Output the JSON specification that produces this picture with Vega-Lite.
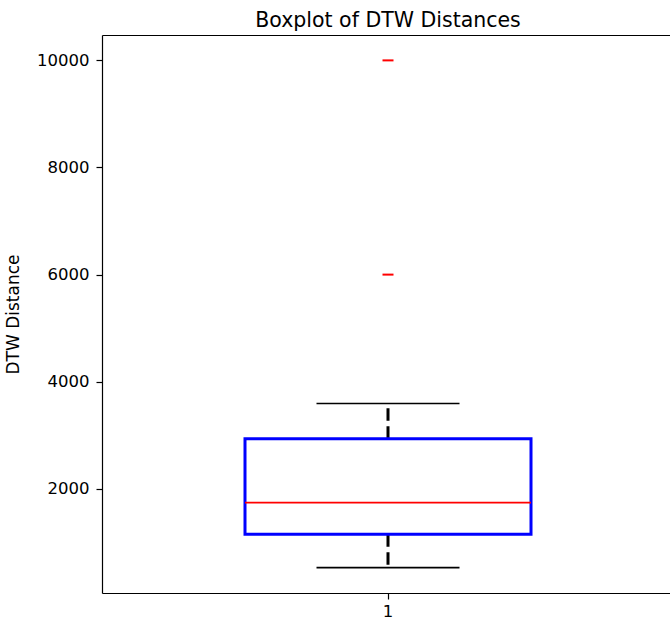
{
  "$schema": "https://vega.github.io/schema/vega-lite/v6.json",
  "width": 572,
  "height": 558,
  "autosize": "none",
  "padding": {"left": 102, "top": 35, "right": -4, "bottom": 27},
  "view": {"stroke": null},
  "title": {"text": "Boxplot of DTW Distances", "font": "DejaVu Sans", "fontSize": 20.5, "fontWeight": "normal", "color": "black", "offset": 4},
  "config": {
    "view": {"stroke": null},
    "font": "DejaVu Sans",
    "axis": {"labelFont": "DejaVu Sans", "titleFont": "DejaVu Sans", "labelColor": "black", "titleColor": "black", "domainColor": "black", "tickColor": "black", "grid": false, "labelFontSize": 16.5, "titleFontSize": 17, "titleFontWeight": "normal", "tickSize": 6, "domainWidth": 1.2, "tickWidth": 1.2}
  },
  "data": {"values": [{"label": "1", "lower": 529, "q1": 1151, "median": 1743, "q3": 2935, "upper": 3593}]},
  "resolve": {"axis": {"x": "independent"}},
  "layer": [
    {
      "mark": {"type": "rule", "color": "black", "strokeWidth": 3, "strokeDash": [12.5, 5.5]},
      "encoding": {
        "x": {"field": "label", "type": "nominal", "scale": {"paddingInner": 0, "paddingOuter": 0.5}, "axis": {"orient": "bottom", "title": null, "labelAngle": 0, "labelPadding": 4}},
        "y": {"field": "q3", "type": "quantitative", "scale": {"domain": [55, 10474], "nice": false, "zero": false}, "axis": {"title": "DTW Distance", "format": "d", "values": [2000, 4000, 6000, 8000, 10000], "titlePadding": 14, "labelPadding": 7}},
        "y2": {"field": "upper"}
      }
    },
    {
      "mark": {"type": "rule", "color": "black", "strokeWidth": 3, "strokeDash": [12.5, 5.5]},
      "encoding": {
        "x": {"field": "label", "type": "nominal", "scale": {"paddingInner": 0, "paddingOuter": 0.5}, "axis": {"orient": "top", "title": null, "labels": false, "ticks": false, "domain": true}},
        "y": {"field": "q1", "type": "quantitative", "scale": {"domain": [55, 10474], "nice": false, "zero": false}, "axis": {"title": "DTW Distance", "format": "d", "values": [2000, 4000, 6000, 8000, 10000]}},
        "y2": {"field": "lower"}
      }
    },
    {
      "mark": {"type": "bar", "fill": "white", "fillOpacity": 0, "stroke": "#0000ff", "strokeWidth": 3},
      "encoding": {
        "x": {"field": "label", "type": "nominal", "scale": {"paddingInner": 0, "paddingOuter": 0.5}, "axis": null},
        "y": {"field": "q1", "type": "quantitative", "scale": {"domain": [55, 10474], "nice": false, "zero": false}, "axis": {"title": "DTW Distance", "format": "d", "values": [2000, 4000, 6000, 8000, 10000]}},
        "y2": {"field": "q3"}
      }
    },
    {
      "mark": {"type": "tick", "color": "#ff0000", "size": 286, "thickness": 1.6, "opacity": 1},
      "encoding": {
        "x": {"field": "label", "type": "nominal", "scale": {"paddingInner": 0, "paddingOuter": 0.5}, "axis": null},
        "y": {"field": "median", "type": "quantitative", "scale": {"domain": [55, 10474], "nice": false, "zero": false}, "axis": {"title": "DTW Distance", "format": "d", "values": [2000, 4000, 6000, 8000, 10000]}}
      }
    },
    {
      "mark": {"type": "tick", "color": "black", "size": 143, "thickness": 1.6, "opacity": 1},
      "encoding": {
        "x": {"field": "label", "type": "nominal", "scale": {"paddingInner": 0, "paddingOuter": 0.5}, "axis": null},
        "y": {"field": "upper", "type": "quantitative", "scale": {"domain": [55, 10474], "nice": false, "zero": false}, "axis": {"title": "DTW Distance", "format": "d", "values": [2000, 4000, 6000, 8000, 10000]}}
      }
    },
    {
      "mark": {"type": "tick", "color": "black", "size": 143, "thickness": 1.6, "opacity": 1},
      "encoding": {
        "x": {"field": "label", "type": "nominal", "scale": {"paddingInner": 0, "paddingOuter": 0.5}, "axis": null},
        "y": {"field": "lower", "type": "quantitative", "scale": {"domain": [55, 10474], "nice": false, "zero": false}, "axis": {"title": "DTW Distance", "format": "d", "values": [2000, 4000, 6000, 8000, 10000]}}
      }
    },
    {
      "data": {"values": [{"label": "1", "value": 6000}, {"label": "1", "value": 10000}]},
      "mark": {"type": "tick", "color": "#ff0000", "size": 11, "thickness": 2, "opacity": 1},
      "encoding": {
        "x": {"field": "label", "type": "nominal", "scale": {"paddingInner": 0, "paddingOuter": 0.5}, "axis": null},
        "y": {"field": "value", "type": "quantitative", "scale": {"domain": [55, 10474], "nice": false, "zero": false}, "axis": {"title": "DTW Distance", "format": "d", "values": [2000, 4000, 6000, 8000, 10000]}}
      }
    }
  ]
}
